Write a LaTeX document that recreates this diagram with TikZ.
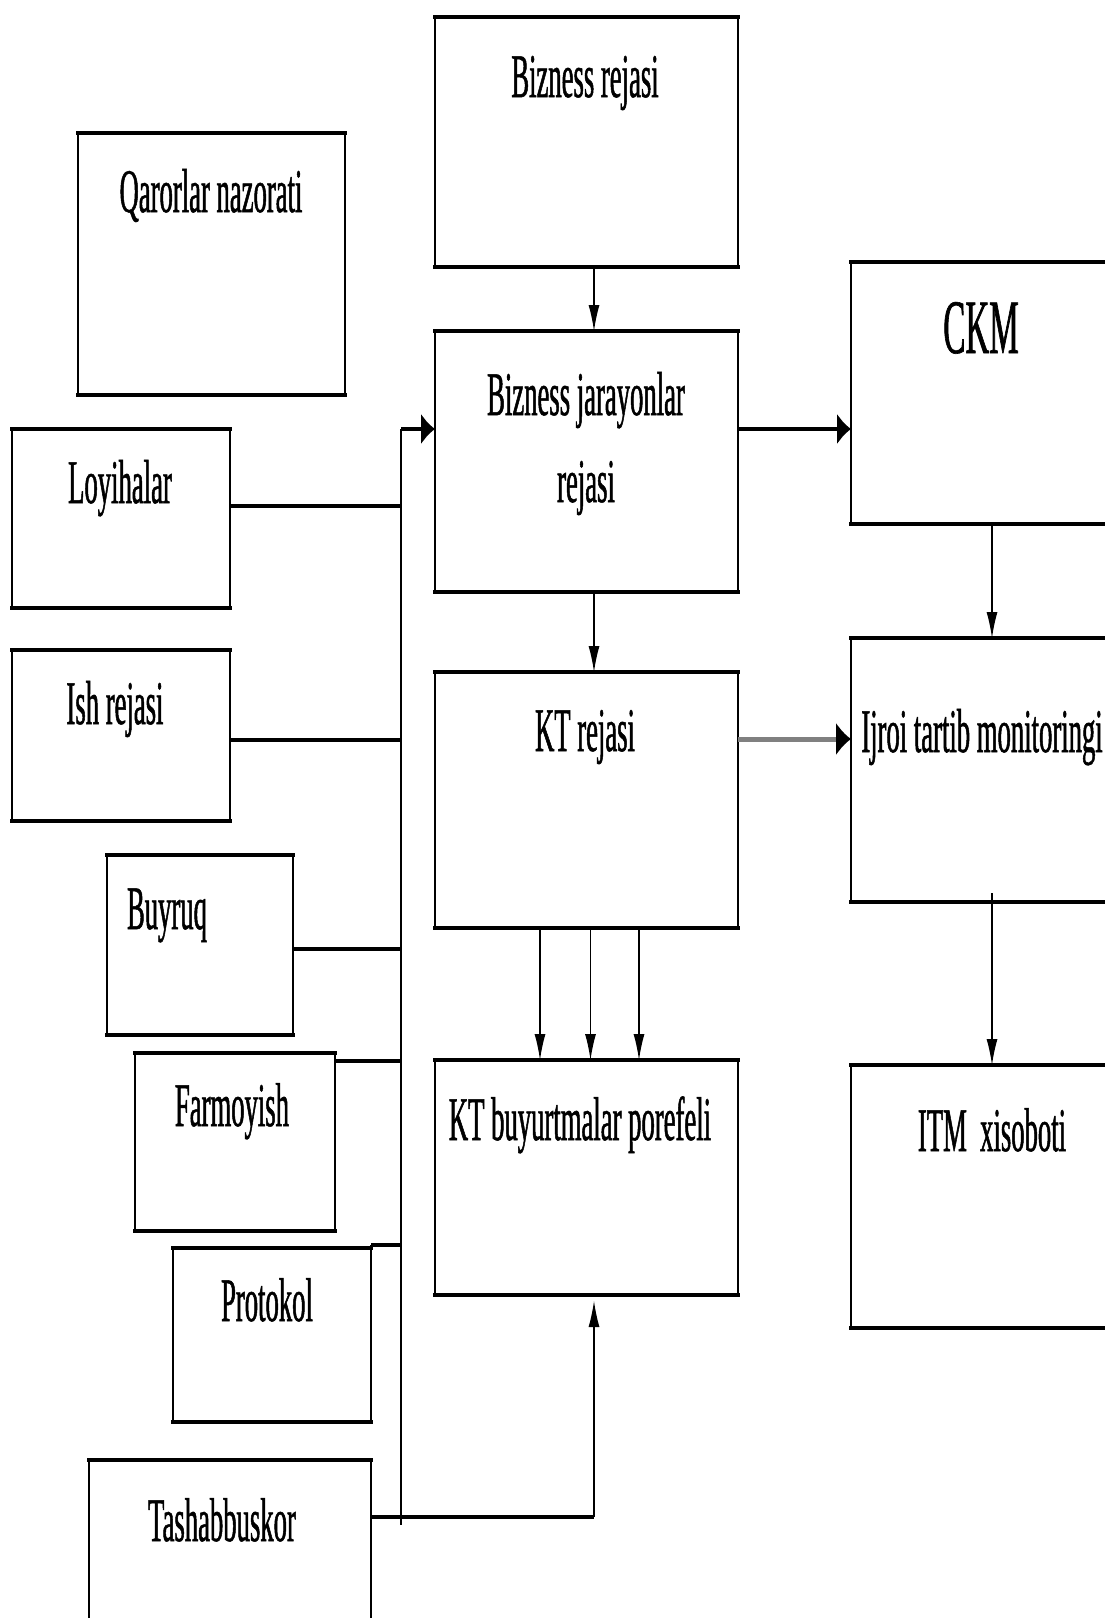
\documentclass[tikz,border=0pt]{standalone}
\usepackage{fontspec}
\newfontfamily\boxfont{Liberation Serif}[FakeStretch=0.43,FakeBold=0.8]
\usetikzlibrary{arrows.meta}

\begin{document}
\begin{tikzpicture}[x=1pt,y=-1pt,
  box/.style={inner sep=0pt, outer sep=0pt, draw=none},
  txt/.style={inner sep=0pt, anchor=base, align=center, font=\boxfont\fontsize{62}{87}\selectfont},
  side/.style={line width=1.4pt},
  rim/.style={line width=3.4pt, line cap=rect},
  wire/.style={line width=3.4pt},
  stem/.style={line width=1.2pt},
  vtip/.style={-{Latex[length=26pt,width=11pt]}},
  htip/.style={-{Latex[length=14pt,width=32pt]}},
]
\useasboundingbox (0,0) rectangle (1105,1618);
\fill[white] (0,0) rectangle (1105,1618);
\clip (0,0) rectangle (1105,1618);

% boxes
\node[box, minimum width=303pt, minimum height=250pt] (bzr) at (586.5,142) {};
\node[box, minimum width=267pt, minimum height=262pt] (qar) at (211.5,264) {};
\node[box, minimum width=303pt, minimum height=261pt] (bjr) at (586.5,461.5) {};
\node[box, minimum width=309pt, minimum height=262pt] (ckm) at (1005.5,393) {};
\node[box, minimum width=218pt, minimum height=179pt] (loy) at (121,518.5) {};
\node[box, minimum width=218pt, minimum height=171pt] (ish) at (121,735.5) {};
\node[box, minimum width=303pt, minimum height=256pt] (ktr) at (586.5,800) {};
\node[box, minimum width=309pt, minimum height=264pt] (ijr) at (1005.5,770) {};
\node[box, minimum width=186pt, minimum height=180pt] (buy) at (200,945) {};
\node[box, minimum width=200pt, minimum height=178pt] (far) at (235,1142) {};
\node[box, minimum width=303pt, minimum height=235pt] (ktb) at (586.5,1177.5) {};
\node[box, minimum width=309pt, minimum height=263pt] (itm) at (1005.5,1196.5) {};
\node[box, minimum width=198pt, minimum height=174pt] (pro) at (272,1335) {};
\node[box, minimum width=282pt, minimum height=240pt] (tas) at (230,1580) {};

\foreach \n in {bzr,qar,bjr,ckm,loy,ish,ktr,ijr,buy,far,ktb,itm,pro,tas}{
  \draw[side] (\n.north west) -- (\n.south west) (\n.north east) -- (\n.south east);
  \draw[rim] (\n.north west) -- (\n.north east) (\n.south west) -- (\n.south east);
}

% labels (anchored on the baseline of the last line)
\node[txt] (bzr-t) at (585,97) {Bizness rejasi};
\node[txt] (qar-t) at (211,212) {Qarorlar nazorati};
\node[txt] (bjr-t) at (586,502) {Bizness jarayonlar\\rejasi};
\node[txt, font=\boxfont\fontsize{77}{90}\selectfont] (ckm-t) at (981,353) {CKM};
\node[txt] (loy-t) at (120,503) {Loyihalar};
\node[txt] (ish-t) at (115,724) {Ish rejasi};
\node[txt] (ktr-t) at (585,751) {KT rejasi};
\node[txt] (ijr-t) at (982,752) {Ijroi tartib monitoringi};
\node[txt] (buy-t) at (167,929) {Buyruq};
\node[txt] (far-t) at (232,1126) {Farmoyish};
\node[txt] (ktb-t) at (580,1140) {KT buyurtmalar porefeli};
\node[txt] (itm-t) at (992,1151) {ITM\ \ xisoboti};
\node[txt] (pro-t) at (267,1321) {Protokol};
\node[txt] (tas-t) at (222,1541) {Tashabbuskor};

% reference points for the collector line and arrow columns
\coordinate (bus) at (401,429);
\coordinate (busEnd) at (401,1525);
\coordinate (colA) at (594,0);
\coordinate (colB) at (992,0);
\coordinate (rowLoy) at (0,506);
\coordinate (rowIsh) at (0,740);
\coordinate (rowBuy) at (0,949);
\coordinate (rowFar) at (0,1061);
\coordinate (rowPro) at (0,1245);
\coordinate (rowTas) at (0,1517);
\coordinate (rowKtr) at (0,739);
\coordinate (ijrOut) at (992,893);

% collector line from the document boxes
\draw[stem] (bus) -- (busEnd);
\draw[wire] (loy.east |- rowLoy) -- (bus |- rowLoy);
\draw[wire] (ish.east |- rowIsh) -- (bus |- rowIsh);
\draw[wire] (buy.east |- rowBuy) -- (bus |- rowBuy);
\draw[wire] (far.east |- rowFar) -- (bus |- rowFar);
\draw[wire] (pro.north east |- rowPro) -- (bus |- rowPro);
\draw[stem] (pro.north east |- rowPro) -- (pro.north east);
\draw[wire,htip] (bus) -- (bus -| bjr.west);

% main flow
\draw[wire,htip] (bjr.east |- bus) -- (ckm.west |- bus);
\draw[stem,vtip] (colA |- bzr.south) -- (colA |- bjr.north);
\draw[stem,vtip] (colA |- bjr.south) -- (colA |- ktr.north);
\draw[stem,vtip] ([xshift=-46.5pt]ktr.south) -- ([xshift=-46.5pt]ktb.north);
\draw[stem,vtip] ([xshift=4pt]ktr.south) -- ([xshift=4pt]ktb.north);
\draw[stem,vtip] ([xshift=52.5pt]ktr.south) -- ([xshift=52.5pt]ktb.north);
\draw[line width=5pt, color=black!50, -{Latex[length=15pt,width=34pt,color=black]}]
  (ktr.east |- rowKtr) -- (ijr.west |- rowKtr);
\draw[stem,vtip] (colB |- ckm.south) -- (colB |- ijr.north);
\draw[stem,vtip] (ijrOut) -- (colB |- itm.north);

% initiative feed into the portfolio
\draw[wire] (tas.east |- rowTas) -- (colA |- rowTas);
\draw[stem,vtip] (colA |- rowTas) -- ([yshift=-6pt]colA |- ktb.south);
\end{tikzpicture}
\end{document}
